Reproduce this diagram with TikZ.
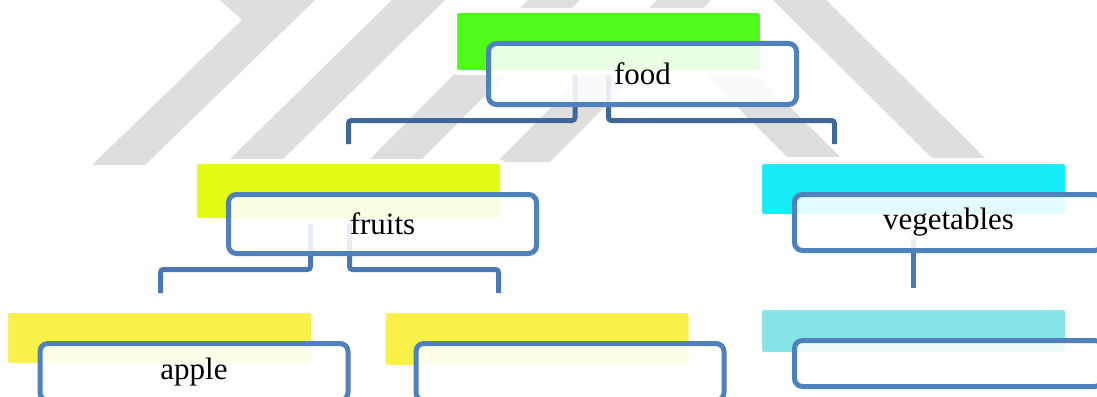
\documentclass[tikz,border=0pt]{standalone}
\usepackage{fontspec}
\setmainfont{Liberation Serif}
\usepackage{xcolor}
\usepackage{tikz}
\usetikzlibrary{calc}
\definecolor{wmgray}{HTML}{DEDEDE}
\definecolor{foodgreen}{HTML}{4EFB1A}
\definecolor{fruitlime}{HTML}{E3FA13}
\definecolor{vegcyan}{HTML}{15ECF6}
\definecolor{vegpale}{HTML}{86E4E6}
\definecolor{appleyellow}{HTML}{F9F14A}
\definecolor{boxblue}{HTML}{4F81BD}
\definecolor{topblue}{HTML}{3F6797}
\definecolor{subblue}{HTML}{4A78B2}
\tikzset{
    colortab/.style={rectangle, fill=#1, draw=white, line width=5pt,
        rounded corners=4pt, minimum width=308pt, inner sep=0pt, outer sep=0pt},
    labelbox/.style={rectangle, draw=boxblue, fill=white, fill opacity=0.88,
        text opacity=1, line width=5pt, rounded corners=8pt,
        minimum width=308pt, inner sep=0pt, outer sep=0pt,
        font=\fontsize{31}{31}\selectfont},
    link/.style={draw=#1, line width=5pt, rounded corners=3pt},
}

\begin{document}
\begin{tikzpicture}[x=1pt, y=-1pt]

    \useasboundingbox (0,0) rectangle (1097,396);
    \clip (0,0) rectangle (1097,396);
    \fill[white] (0,0) rectangle (1097,396);

    % ── Watermark bands ────────────────────────────────────────────────────
    \fill[wmgray] (220,0) -- (242,20) -- (92,165) -- (145,165) -- (315,0) -- cycle;
    \fill[wmgray] (230,159) -- (283,159) -- (445,0) -- (392,0) -- cycle;
    \fill[wmgray] (370,159) -- (422,159) -- (580,0) -- (528,0) -- cycle;
    \fill[wmgray] (497,162) -- (550,162) -- (711,0) -- (657,0) -- cycle;
    \fill[wmgray] (650,20) -- (703,20) -- (840,157) -- (787,157) -- cycle;
    \fill[wmgray] (773,0) -- (826,0) -- (985,158) -- (932,158) -- cycle;

    % ── Coloured tabs ──────────────────────────────────────────────────────
    \node[colortab=foodgreen,   minimum height=62pt] (foodtab)     at (608.5,41.5) {};
    \node[colortab=fruitlime,   minimum height=59pt] (fruitstab)   at (348.5,191)  {};
    \node[colortab=vegcyan,     minimum height=55pt] (vegtab)      at (913.5,189)  {};
    \node[colortab=appleyellow, minimum height=55pt] (appletab)    at (159.5,338)  {};
    \node[colortab=appleyellow, minimum height=57pt] (fruitkidtab) at (537,339)    {};
    \node[colortab=vegpale,     minimum height=47pt] (vegkidtab)   at (913.5,331)  {};

    % ── Connector ends ─────────────────────────────────────────────────────
    \coordinate (fruitsin)   at (348.5,144);
    \coordinate (vegin)      at (834.5,144);
    \coordinate (applein)    at (160.5,293);
    \coordinate (fruitkidin) at (498.5,293);
    \coordinate (vegkidin)   at (913.5,288);

    % ── Label boxes (placed first so the links can use them) ──────────────
    \path (642.5,74)  coordinate (foodc)
          (382.5,224) coordinate (fruitsc)
          (948.5,222.5) coordinate (vegc);

    % ── Links ──────────────────────────────────────────────────────────────
    \draw[link=topblue] ($(foodc)+(-67.5,1)$) -- ++(0,45.5) -| (fruitsin);
    \draw[link=topblue] ($(foodc)+(-34,1)$) -- ++(0,45.5) -| (vegin);
    \draw[link=subblue] ($(fruitsc)+(-72,0)$) -- ++(0,45.5) -| (applein);
    \draw[link=subblue] ($(fruitsc)+(-33,0)$) -- ++(0,45.5) -| (fruitkidin);
    \draw[link=subblue] ($(vegc)+(-35,15.5)$) -- (vegkidin);

    % ── Label boxes ────────────────────────────────────────────────────────
    \node[labelbox, minimum height=61pt] (food)       at (foodc)   {food};
    \node[labelbox, minimum height=59pt] (fruits)     at (fruitsc) {fruits};
    \node[labelbox, minimum height=56pt] (vegetables) at (vegc)    {vegetables};
    \node[labelbox, minimum height=57pt] (apple)      at (194,372) {apple};
    \node[labelbox, minimum height=57pt] (fruitkid)   at (570,372) {};
    \node[labelbox, minimum height=46pt] (vegkid)     at (948.5,363.5) {};

\end{tikzpicture}
\end{document}
